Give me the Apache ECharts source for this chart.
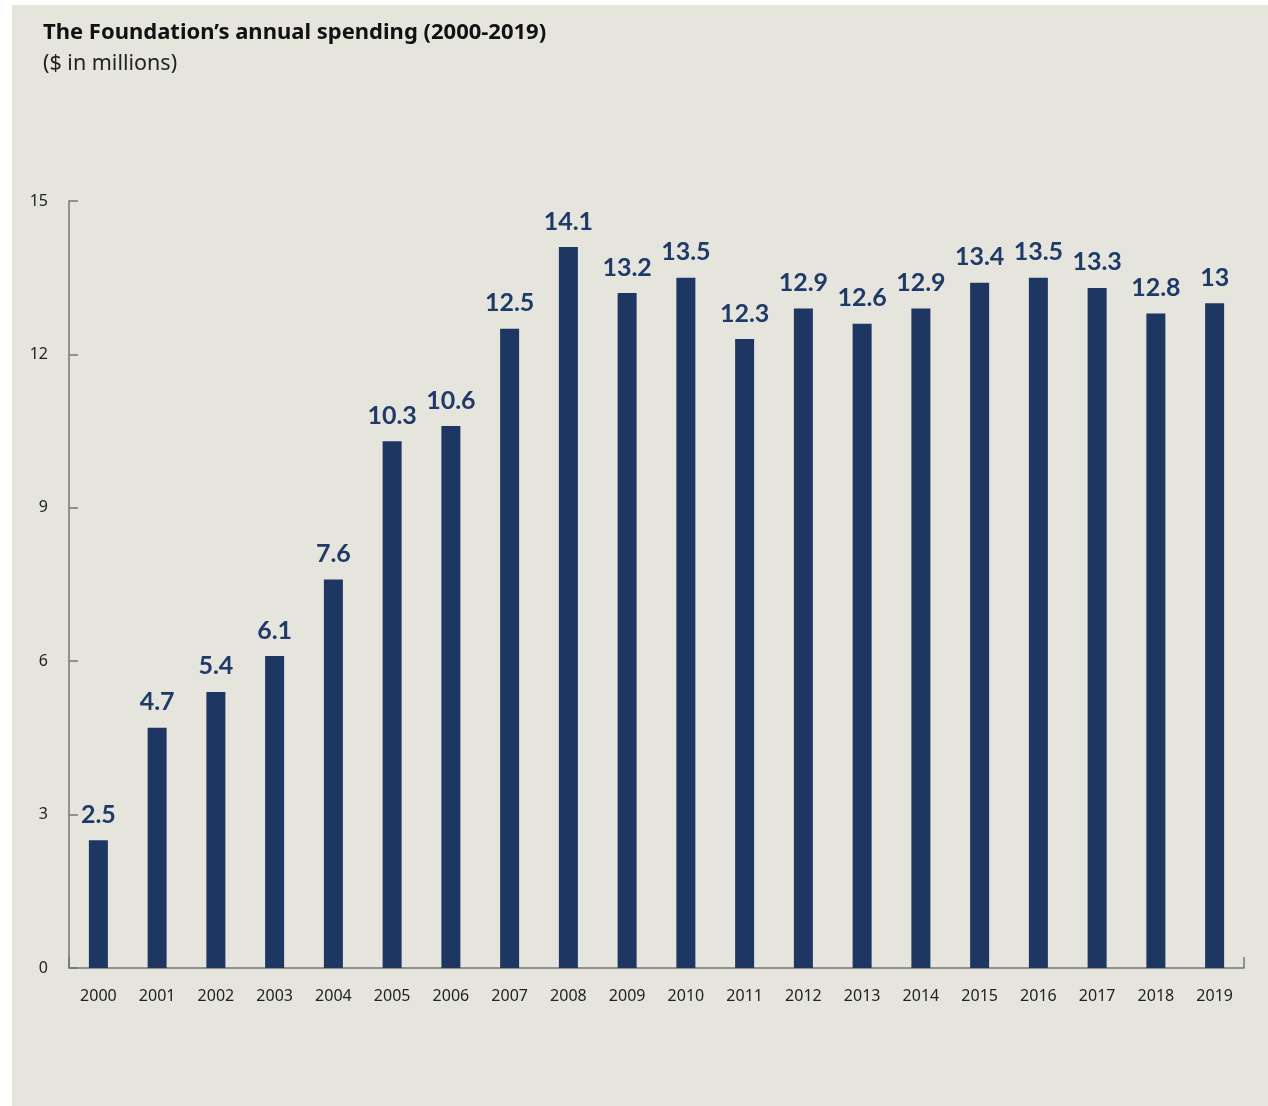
<!DOCTYPE html>
<html>
<head>
<meta charset="utf-8">
<script src="https://cdn.jsdelivr.net/npm/echarts@6/dist/echarts.min.js"></script>
<style>
  html, body { margin: 0; padding: 0; background: #ffffff; width: 1268px; height: 1106px; overflow: hidden; }
  #chart { position: absolute; left: 12px; top: 5px; width: 1256px; height: 1101px; background: #e5e4dd; }
</style>
</head>
<body>
<div id="chart"></div>
<script>
const years = ['2000','2001','2002','2003','2004','2005','2006','2007','2008','2009','2010','2011','2012','2013','2014','2015','2016','2017','2018','2019'];
const spending = [2.5, 4.7, 5.4, 6.1, 7.6, 10.3, 10.6, 12.5, 14.1, 13.2, 13.5, 12.3, 12.9, 12.6, 12.9, 13.4, 13.5, 13.3, 12.8, 13];
const titleText = 'The Foundation\u2019s annual spending (2000-2019)';
const subtitleText = '($ in millions)';

const chart = echarts.init(document.getElementById('chart'), null, { renderer: 'canvas' });
const axisColor = '#767676';
chart.setOption({
  backgroundColor: '#e5e4dd',
  animation: false,
  title: [
    { text: titleText, left: 26, top: 12, textStyle: { fontFamily: 'Noto Sans', fontWeight: 'bold', fontSize: 22, color: '#111111' } },
    { text: subtitleText, left: 26, top: 43, textStyle: { fontFamily: 'Noto Sans', fontWeight: 'normal', fontSize: 21.5, color: '#222222' } }
  ],
  grid: { left: 57, right: 24, top: 196, bottom: 138, containLabel: false },
  xAxis: {
    type: 'category',
    data: years,
    axisLine: { show: true, lineStyle: { color: axisColor, width: 1.5 } },
    axisTick: { show: true, inside: true, length: 11, interval: function (i) { return i === years.length - 1; }, lineStyle: { color: axisColor, width: 1.5 } },
    axisLabel: { margin: 20, fontFamily: 'Noto Sans', fontSize: 16, color: '#222222' }
  },
  yAxis: {
    type: 'value',
    min: 0, max: 15, interval: 3,
    axisLine: { show: true, lineStyle: { color: axisColor, width: 1.5 } },
    axisTick: { show: true, inside: true, length: 9, lineStyle: { color: axisColor, width: 1.5 } },
    splitLine: { show: false },
    axisLabel: { margin: 21, fontFamily: 'Noto Sans', fontSize: 16, color: '#222222' }
  },
  series: [{
    type: 'bar',
    data: spending,
    barWidth: 19,
    itemStyle: { color: '#1d3762' },
    label: {
      show: true,
      position: 'top',
      distance: 13,
      fontFamily: 'Lato',
      fontWeight: 'bold',
      fontSize: 25,
      color: '#1f3a68'
    }
  }]
});
</script>
</body>
</html>
